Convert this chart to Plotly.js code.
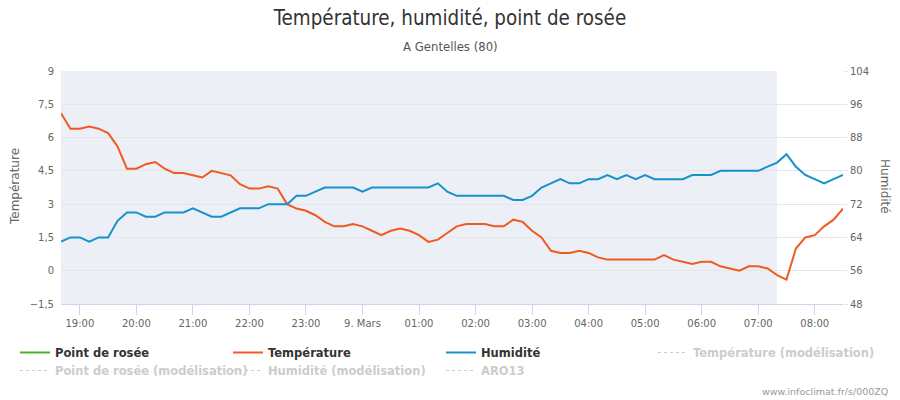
<!DOCTYPE html>
<html>
<head>
<meta charset="utf-8">
<script src="https://cdn.plot.ly/plotly-3.0.1.min.js"></script>
<style>html,body{margin:0;padding:0;background:#fff;}#chart{width:900px;height:400px;}</style>
</head>
<body>
<div id="chart"></div>
<script>
// ---- data (10-minute observations, 8 Mar 18:40 -> 9 Mar 08:30) ----
const startTime = '2019-03-08T18:40:00';
const stepMinutes = 10;
const temperature = [7.1,6.4,6.4,6.5,6.4,6.2,5.6,4.6,4.6,4.8,4.9,4.6,4.4,4.4,4.3,4.2,4.5,4.4,4.3,3.9,
  3.7,3.7,3.8,3.7,3.0,2.8,2.7,2.5,2.2,2.0,2.0,2.1,2.0,1.8,1.6,1.8,1.9,1.8,1.6,1.3,
  1.4,1.7,2.0,2.1,2.1,2.1,2.0,2.0,2.3,2.2,1.8,1.5,0.9,0.8,0.8,0.9,0.8,0.6,0.5,0.5,
  0.5,0.5,0.5,0.5,0.7,0.5,0.4,0.3,0.4,0.4,0.2,0.1,0.0,0.2,0.2,0.1,-0.2,-0.4,1.0,1.5,
  1.6,2.0,2.3,2.8];
const humidity = [63,64,64,63,64,64,68,70,70,69,69,70,70,70,71,70,69,69,70,71,
  71,71,72,72,72,74,74,75,76,76,76,76,75,76,76,76,76,76,76,76,
  77,75,74,74,74,74,74,74,73,73,74,76,77,78,77,77,78,78,79,78,
  79,78,79,78,78,78,78,79,79,79,80,80,80,80,80,81,82,84,81,79,
  78,77,78,79];
const dewPoint = [null];      // no dew-point values in the picture
const noData = [null];        // model series: present in legend only
const tickTimes = ['2019-03-08T19:00','2019-03-08T20:00','2019-03-08T21:00','2019-03-08T22:00','2019-03-08T23:00',
  '2019-03-09T00:00','2019-03-09T01:00','2019-03-09T02:00','2019-03-09T03:00','2019-03-09T04:00',
  '2019-03-09T05:00','2019-03-09T06:00','2019-03-09T07:00','2019-03-09T08:00'];
const tickLabels = ['19:00','20:00','21:00','22:00','23:00','9. Mars','01:00','02:00','03:00','04:00',
  '05:00','06:00','07:00','08:00'];
const observedEnd = '2019-03-09T07:20:00';
const tempTicks = [-1.5,0,1.5,3,4.5,6,7.5,9];
const humTicks = [48,56,64,72,80,88,96,104];

// time stamps for the observation series
function pad(n){return (n<10?'0':'')+n;}
const t0 = new Date(startTime + 'Z').getTime();
const times = temperature.map((_, i) => {
  const d = new Date(t0 + i*stepMinutes*60000);
  return d.getUTCFullYear()+'-'+pad(d.getUTCMonth()+1)+'-'+pad(d.getUTCDate())+' '+pad(d.getUTCHours())+':'+pad(d.getUTCMinutes());
});

// ---- geometry helpers (pixel -> paper) ----
const W=900,H=400,L=61,R=57,T=71,B=96;
const pw=W-L-R, ph=H-T-B;
const px=x=>(x-L)/pw, py=y=>(H-B-y)/ph;

const FONT='"DejaVu Sans", Verdana, sans-serif';
const COND='"DejaVu Sans Condensed","Liberation Sans Narrow","Roboto Condensed",'+FONT;
const legFont={family:FONT,size:11.5,color:'#333',weight:'bold'};
const legFontOff={family:FONT,size:11.5,color:'#cccccc',weight:'bold'};

const traces = [
  {name:'Point de rosée', x:dewPoint, y:dewPoint, type:'scatter', mode:'lines', line:{color:'#4caf2e',width:2}, legend:'legend'},
  {name:'Température', x:times, y:temperature, type:'scatter', mode:'lines', line:{color:'#f05a22',width:2}, legend:'legend'},
  {name:'Humidité', x:times, y:humidity, yaxis:'y2', type:'scatter', mode:'lines', line:{color:'#1591cb',width:2}, legend:'legend'},
  {name:'Température (modélisation)', x:noData, y:noData, type:'scatter', mode:'lines', line:{color:'#cccccc',width:1,dash:'dot'}, legend:'legend2'},
  {name:'Point de rosée (modélisation)', x:noData, y:noData, type:'scatter', mode:'lines', line:{color:'#cccccc',width:1,dash:'dot'}, legend:'legend3'},
  {name:'Humidité (modélisation)', x:noData, y:noData, yaxis:'y2', type:'scatter', mode:'lines', line:{color:'#cccccc',width:1,dash:'dot'}, legend:'legend3'},
  {name:'ARO13', x:noData, y:noData, type:'scatter', mode:'lines', line:{color:'#cccccc',width:1,dash:'dot'}, legend:'legend3'}
];

const legBase = {orientation:'h', xanchor:'left', yanchor:'top', itemwidth:30, entrywidth:168, entrywidthmode:'pixels',
  bgcolor:'rgba(0,0,0,0)', borderwidth:0, traceorder:'normal', itemclick:false, itemdoubleclick:false};

const layout = {
  width:W, height:H, autosize:false,
  margin:{l:L,r:R,t:T,b:B,pad:0,autoexpand:false},
  paper_bgcolor:'#ffffff', plot_bgcolor:'#ffffff',
  separators:', ',
  font:{family:FONT,size:10,color:'#666'},
  title:{text:'Température, humidité, point de rosée', font:{family:COND,size:20.4,color:'#333'},
    x:0.5, xref:'container', xanchor:'center', y:1-18/H, yref:'container', yanchor:'middle'},
  xaxis:{type:'date', range:[times[0], times[times.length-1]], tickvals:tickTimes, ticktext:tickLabels,
    showgrid:false, zeroline:false, showline:true, linecolor:'#ccd6eb', linewidth:1,
    ticks:'outside', ticklen:10, tickcolor:'#ccd6eb', tickwidth:1, tickfont:{size:10,color:'#666'}, fixedrange:true},
  yaxis:{range:[-1.5,9], tickvals:tempTicks, tickformat:'.1~f', showgrid:true, gridcolor:'#e6e6e6', gridwidth:1,
    zeroline:false, showline:false, ticks:'', tickfont:{size:10,color:'#666'}, ticklabelstandoff:6, fixedrange:true},
  yaxis2:{range:[48,104], tickvals:humTicks, overlaying:'y', side:'right', showgrid:false, zeroline:false,
    showline:false, ticks:'outside', ticklen:4, tickcolor:'#e6e6e6', tickfont:{size:10,color:'#666'}, fixedrange:true},
  shapes:[{type:'rect', xref:'x', yref:'paper', x0:times[0], x1:observedEnd, y0:0, y1:1,
    fillcolor:'#eceff6', line:{width:0}, layer:'below'}],
  showlegend:true,
  legend:Object.assign({}, legBase, {x:px(15), y:py(338), font:legFont}),
  legend2:Object.assign({}, legBase, {x:px(653), y:py(338), entrywidth:0, font:legFontOff}),
  legend3:Object.assign({}, legBase, {x:px(15), y:py(356), font:legFontOff}),
  annotations:[
    {text:'A Gentelles (80)', xref:'paper', yref:'paper', x:px(450), y:py(47), showarrow:false,
      font:{family:COND,size:13,color:'#555'}, xanchor:'center', yanchor:'middle'},
    {text:'Température', xref:'paper', yref:'paper', x:px(15), y:py(187), textangle:-90, showarrow:false,
      font:{size:12,color:'#666'}, xanchor:'center', yanchor:'middle'},
    {text:'Humidité', xref:'paper', yref:'paper', x:px(885), y:py(187), textangle:90, showarrow:false,
      font:{size:12,color:'#666'}, xanchor:'center', yanchor:'middle'},
    {text:'www.infoclimat.fr/s/000ZQ', xref:'paper', yref:'paper', x:px(890), y:py(391), showarrow:false,
      font:{size:9.5,color:'#999'}, xanchor:'right', yanchor:'middle'}
  ]
};

Plotly.newPlot('chart', traces, layout, {staticPlot:true, displayModeBar:false});
</script>
</body>
</html>
